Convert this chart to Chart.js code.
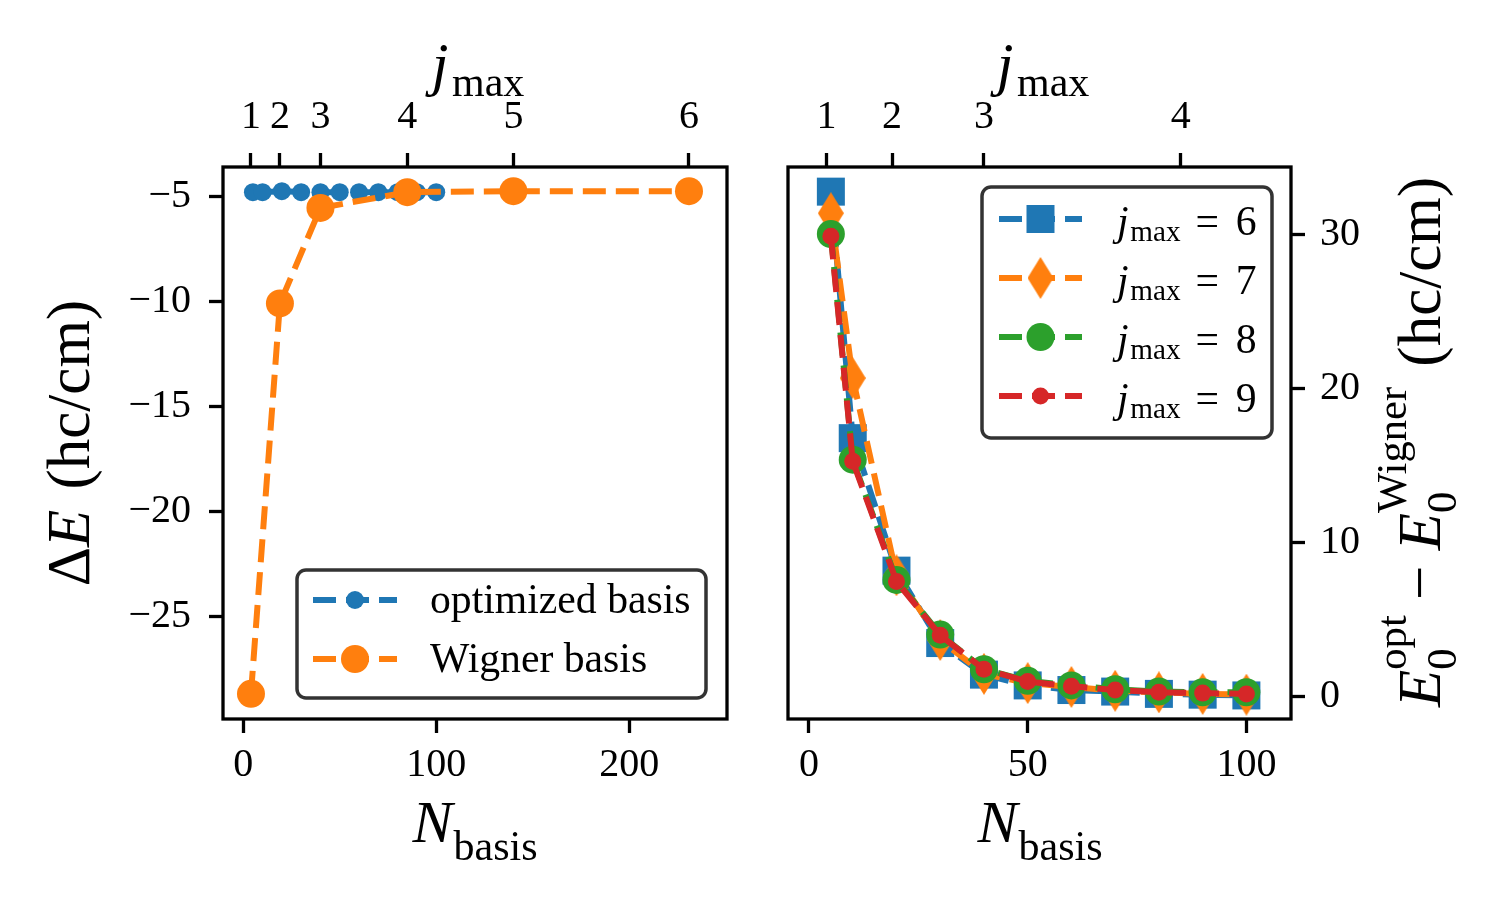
<!DOCTYPE html>
<html>
<head>
<meta charset="utf-8">
<script src="https://cdn.jsdelivr.net/npm/chart.js@4.4.1/dist/chart.umd.min.js"></script>
<style>
  html, body { margin: 0; padding: 0; background: #fff; }
  #wrap { position: relative; width: 1500px; height: 900px; overflow: hidden; background: #fff; }
  #left { position: absolute; left: 0; top: 0; }
  #right { position: absolute; left: 760px; top: 0; }
</style>
</head>
<body>
<div id="wrap">
  <canvas id="left" width="760" height="900"></canvas>
  <canvas id="right" width="740" height="900"></canvas>
</div>
<script>
// Basis convergence figure: Delta E vs N_basis (left), E0 difference vs N_basis (right)

// top axis: j_max labels and the basis size they sit at
const jmaxTicks = ['1', '2', '3', '4', '5', '6'];
const jmaxBasisN = [4, 19, 40, 85, 140, 231];

// left panel
const optimizedN = [5, 10, 20, 30, 40, 50, 60, 70, 80, 90, 100];
const optimizedDE = [-4.8, -4.8, -4.75, -4.8, -4.8, -4.8, -4.8, -4.8, -4.8, -4.8, -4.8];
const wignerN = [4, 19, 40, 85, 140, 231];
const wignerDE = [-28.7, -10.1, -5.55, -4.8, -4.75, -4.75];
const leftXTicks = [0, 100, 200];
const leftYTicks = [-25, -20, -15, -10, -5];

// right panel
const diffN = [5, 10, 20, 30, 40, 50, 60, 70, 80, 90, 100];
const diffJ6 = [32.8, 16.8, 8.2, 3.5, 1.45, 0.75, 0.45, 0.35, 0.2, 0.15, 0.1];
const diffJ7 = [31.4, 20.7, 7.9, 3.7, 1.5, 0.9, 0.65, 0.4, 0.3, 0.2, 0.15];
const diffJ8 = [30.05, 15.4, 7.6, 4.05, 1.8, 1.05, 0.75, 0.5, 0.35, 0.3, 0.3];
const diffJ9 = [29.9, 15.3, 7.5, 4.0, 1.8, 1.0, 0.7, 0.45, 0.3, 0.25, 0.2];
const rightXTicks = [0, 50, 100];
const rightYTicks = [0, 10, 20, 30];

const C0 = '#1f77b4', C1 = '#ff7f0e', C2 = '#2ca02c', C3 = '#d62728';
const SERIF = '"Liberation Serif", "DejaVu Serif", serif';
const DASH = [23, 10];
const TICK_SIZE = 40;

// thin diamond marker (matplotlib 'd')
const thinDiamond = document.createElement('canvas');
thinDiamond.width = 26;
thinDiamond.height = 42;
(function() {
    const c = thinDiamond.getContext('2d');
    c.fillStyle = C1;
    c.beginPath();
    c.moveTo(13, 0);
    c.lineTo(26, 21);
    c.lineTo(13, 42);
    c.lineTo(0, 21);
    c.closePath();
    c.fill();
})();

function pts(xs, ys) {
    return xs.map((x, i) => ({ x: x, y: ys[i] }));
}

function minusFmt(v) {
    return String(v).replace('-', '\u2212');
}

function makeAxis(pos, min, max, tickVals, fmt, pad, fitSize) {
    return {
        type: 'linear',
        position: pos,
        min: min,
        max: max,
        border: { display: false },
        grid: { display: true, drawOnChartArea: false, drawTicks: true, tickLength: 14, tickWidth: 3.3, tickColor: '#000' },
        ticks: { color: '#000', font: { family: SERIF, size: TICK_SIZE }, padding: pad, maxRotation: 0, autoSkip: false, callback: fmt },
        afterBuildTicks: function(ax) {
            ax.ticks = tickVals.filter(v => v >= min && v <= max).map(v => ({ value: v }));
        },
        afterFit: function(ax) {
            if (pos === 'left' || pos === 'right') ax.width = fitSize;
            else ax.height = fitSize;
        }
    };
}

function jmaxFmt(v) {
    return jmaxTicks[jmaxBasisN.indexOf(v)];
}

function lineSet(label, xs, ys, color, style, radius, order) {
    return {
        label: label,
        data: pts(xs, ys),
        borderColor: color,
        backgroundColor: color,
        borderWidth: 6,
        borderDash: DASH,
        pointStyle: style,
        pointRadius: radius,
        pointBackgroundColor: color,
        pointBorderWidth: 0,
        tension: 0,
        fill: false,
        order: order
    };
}

// --- simple mathtext: parts with italic / sub / sup ---
function drawMath(ctx, parts, size, x, y, align, angle) {
    let cur = 0, pend = 0;
    const items = [];
    parts.forEach(p => {
        const fs = (p.sub || p.sup) ? size * 0.7 : size;
        const font = (p.it ? 'italic ' : '') + fs + 'px ' + SERIF;
        ctx.font = font;
        const w = ctx.measureText(p.t).width;
        cur += (p.pre || 0) * size;
        let dy = 0;
        if (p.sub) dy = size * (p.shift !== undefined ? p.shift : 0.22);
        if (p.sup) dy = -size * (p.shift !== undefined ? p.shift : 0.45);
        items.push({ t: p.t, font: font, x: cur, dy: dy });
        if (p.keep) {
            pend = Math.max(pend, w);
        } else {
            cur += Math.max(w, pend);
            pend = 0;
        }
    });
    const start = align === 'center' ? -cur / 2 : (align === 'right' ? -cur : 0);
    ctx.save();
    ctx.translate(x, y);
    ctx.rotate(angle || 0);
    ctx.fillStyle = '#000';
    ctx.textBaseline = 'alphabetic';
    ctx.textAlign = 'left';
    items.forEach(it => {
        ctx.font = it.font;
        ctx.fillText(it.t, start + it.x, it.dy);
    });
    ctx.restore();
}

function drawMarker(ctx, kind, color, x, y) {
    ctx.fillStyle = color;
    ctx.beginPath();
    if (kind === 'rect') {
        ctx.rect(x - 14, y - 14, 28, 28);
        ctx.fill();
    } else if (kind === 'diamond') {
        ctx.drawImage(thinDiamond, x - 13, y - 21);
    } else {
        ctx.arc(x, y, kind, 0, Math.PI * 2);
        ctx.fill();
    }
}

function drawLegend(ctx, box, handle, rows, textX) {
    ctx.save();
    ctx.beginPath();
    ctx.roundRect(box.x, box.y, box.w, box.h, 9);
    ctx.fillStyle = 'rgba(255,255,255,0.8)';
    ctx.fill();
    ctx.lineWidth = 3.5;
    ctx.strokeStyle = '#333333';
    ctx.stroke();
    rows.forEach(r => {
        ctx.setLineDash(DASH);
        ctx.lineWidth = 6;
        ctx.strokeStyle = r.color;
        ctx.beginPath();
        ctx.moveTo(handle.x0, r.y);
        ctx.lineTo(handle.x1, r.y);
        ctx.stroke();
        ctx.setLineDash([]);
        drawMarker(ctx, r.marker, r.color, (handle.x0 + handle.x1) / 2, r.y);
        drawMath(ctx, r.text, 41.7, textX, r.y + r.base, 'left', 0);
    });
    ctx.restore();
}

function framePlugin() {
    return {
        id: 'frame',
        afterDatasetsDraw(chart) {
            const ctx = chart.ctx, a = chart.chartArea;
            ctx.save();
            ctx.strokeStyle = '#000';
            ctx.lineWidth = 3.3;
            ctx.setLineDash([]);
            ctx.strokeRect(a.left, a.top, a.right - a.left, a.bottom - a.top);
            ctx.restore();
        }
    };
}

const nBasis = [{ t: 'N', it: true }, { t: 'basis', sub: true, shift: 0.3, pre: 0.02 }];
const jMax = [{ t: 'j', it: true }, { t: 'max', sub: true, shift: 0.2, pre: 0.06 }];

// ---------- left panel ----------
new Chart(document.getElementById('left'), {
    type: 'line',
    data: {
        datasets: [
            lineSet('optimized basis', optimizedN, optimizedDE, C0, 'circle', 9, 2),
            lineSet('Wigner basis', wignerN, wignerDE, C1, 'circle', 14, 1)
        ]
    },
    options: {
        responsive: false,
        animation: false,
        events: [],
        devicePixelRatio: 1,
        layout: { padding: { left: 123, right: 33, top: 67, bottom: 101 } },
        plugins: { legend: { display: false }, tooltip: { enabled: false } },
        scales: {
            x: makeAxis('bottom', -10.5, 250.7, leftXTicks, minusFmt, 8, 80),
            xTop: makeAxis('top', -10.5, 250.7, jmaxBasisN, jmaxFmt, 12, 100),
            y: makeAxis('left', -29.9, -3.6, leftYTicks, minusFmt, 18, 100)
        }
    },
    plugins: [framePlugin(), {
        id: 'decorLeft',
        afterDraw(chart) {
            const ctx = chart.ctx;
            drawMath(ctx, nBasis, 60, 475, 842, 'center', 0);
            drawMath(ctx, jMax, 60, 478, 84, 'center', 0);
            drawMath(ctx, [{ t: '\u0394' }, { t: 'E', it: true }, { t: '(hc/cm)', pre: 0.33 }],
                61, 89, 443, 'center', -Math.PI / 2);
            drawLegend(ctx, { x: 297, y: 570, w: 409, h: 128 }, { x0: 313, x1: 397 }, [
                { color: C0, marker: 9, y: 600, base: 13, text: [{ t: 'optimized basis' }] },
                { color: C1, marker: 14, y: 659, base: 13, text: [{ t: 'Wigner basis' }] }
            ], 430);
        }
    }]
});

// ---------- right panel ----------
const jRows = ['6', '7', '8', '9'];
new Chart(document.getElementById('right'), {
    type: 'line',
    data: {
        datasets: [
            lineSet('j6', diffN, diffJ6, C0, 'rect', 19.8, 4),
            lineSet('j7', diffN, diffJ7, C1, thinDiamond, 13, 3),
            lineSet('j8', diffN, diffJ8, C2, 'circle', 14, 2),
            lineSet('j9', diffN, diffJ9, C3, 'circle', 8.5, 1)
        ]
    },
    options: {
        responsive: false,
        animation: false,
        events: [],
        devicePixelRatio: 1,
        layout: { padding: { left: 28, right: 109, top: 67, bottom: 101 } },
        plugins: { legend: { display: false }, tooltip: { enabled: false } },
        scales: {
            x: makeAxis('bottom', -4.8, 110.2, rightXTicks, minusFmt, 8, 80),
            xTop: makeAxis('top', -4.8, 110.2, jmaxBasisN, jmaxFmt, 12, 100),
            y: makeAxis('right', -1.43, 34.4, rightYTicks, minusFmt, 15, 100)
        }
    },
    plugins: [framePlugin(), {
        id: 'decorRight',
        afterDraw(chart) {
            const ctx = chart.ctx;
            drawMath(ctx, nBasis, 60, 280, 842, 'center', 0);
            drawMath(ctx, jMax, 60, 283, 84, 'center', 0);
            drawMath(ctx, [
                { t: 'E', it: true },
                { t: '0', sub: true, keep: true, shift: 0.27 },
                { t: 'opt', sup: true, shift: 0.55 },
                { t: '\u2212', pre: 0.25 },
                { t: 'E', it: true, pre: 0.25 },
                { t: '0', sub: true, keep: true, shift: 0.27 },
                { t: 'Wigner', sup: true, shift: 0.55 },
                { t: '(hc/cm)', pre: 0.33 }
            ], 61, 680, 442, 'center', -Math.PI / 2);
            const markers = ['rect', 'diamond', 14, 8.5];
            const colors = [C0, C1, C2, C3];
            drawLegend(ctx, { x: 222, y: 187, w: 290, h: 251 }, { x0: 239, x1: 322 },
                jRows.map((d, i) => ({
                    color: colors[i],
                    marker: markers[i],
                    y: 219 + i * 59,
                    base: 16,
                    text: [{ t: 'j', it: true }, { t: 'max', sub: true, shift: 0.15, pre: 0.04 },
                           { t: '=', pre: 0.36 }, { t: d, pre: 0.4 }]
                })), 357);
        }
    }]
});
</script>
</body>
</html>
